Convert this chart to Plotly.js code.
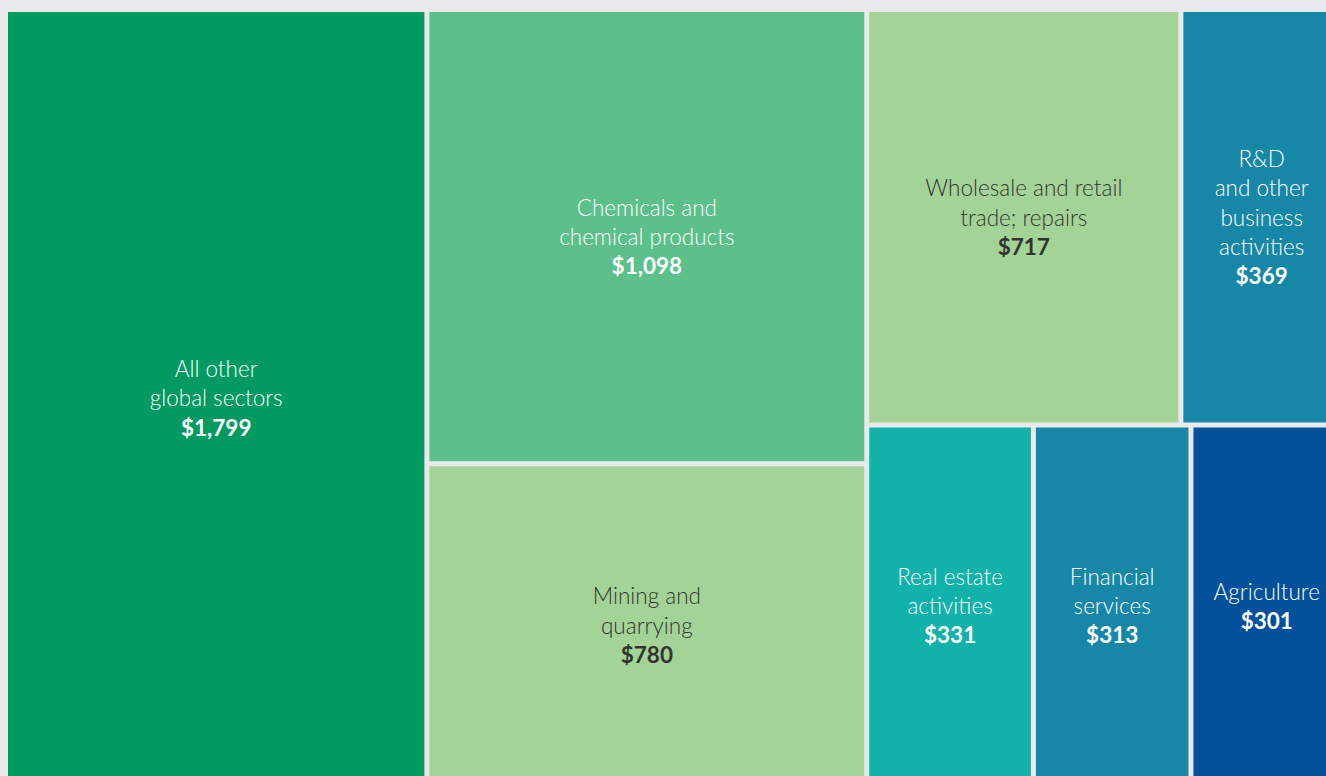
<!DOCTYPE html>
<html>
<head>
<meta charset="utf-8">
<script src="https://cdn.plot.ly/plotly-3.0.1.min.js"></script>
<style>
  html, body { margin: 0; padding: 0; overflow: hidden; background: #e9e9eb; }
  #chart { width: 1340px; height: 784px; }
</style>
</head>
<body>
<div id="chart"></div>
<script>
// Sector labels (pre-wrapped as in the reference)
const sectors = [
  "All other<br>global sectors",
  "Chemicals and<br>chemical products",
  "Mining and<br>quarrying",
  "Wholesale and retail<br>trade; repairs",
  "R&D<br>and other<br>business<br>activities",
  "Real estate<br>activities",
  "Financial<br>services",
  "Agriculture"
];
const sectorValues = [1799, 1098, 780, 717, 369, 331, 313, 301];
// Layout groups (structure only): which block each sector belongs to
const sectorGroup = ["root", "colB", "colB", "rowC1", "rowC1", "rowC2", "rowC2", "rowC2"];
const sectorColors = ["#019b62", "#5cc08b", "#a3d396", "#a3d396", "#1787a8", "#10b2a9", "#1787a8", "#03519a"];
const sectorTextColors = ["#ffffff", "#ffffff", "#333333", "#333333", "#ffffff", "#ffffff", "#ffffff", "#ffffff"];

// Group nodes (invisible containers)
const groupIds = ["root", "colB", "colC", "rowC1", "rowC2"];
const groupParents = ["", "root", "root", "colC", "colC"];

const bg = "#e9e9eb";

// Build node list in order so that children keep data order
const ids = [], labels = [], parents = [], values = [], colors = [], tcolors = [], templates = [];
function addGroup(id) {
  const k = groupIds.indexOf(id);
  ids.push(id); labels.push(""); parents.push(groupParents[k]); values.push(0);
  colors.push(bg); tcolors.push(bg); templates.push("");
}
function addSector(i) {
  ids.push("s" + i); labels.push(sectors[i]); parents.push(sectorGroup[i]);
  values.push(sectorValues[i]); colors.push(sectorColors[i]); tcolors.push(sectorTextColors[i]);
  templates.push("%{label}<br><b>$%{value:,}</b>");
}
addGroup("root");
addSector(0);
addGroup("colB"); addSector(1); addSector(2);
addGroup("colC");
addGroup("rowC1"); addSector(3); addSector(4);
addGroup("rowC2"); addSector(5); addSector(6); addSector(7);

const trace = {
  type: "treemap",
  ids: ids,
  labels: labels,
  parents: parents,
  values: values,
  branchvalues: "remainder",
  sort: false,
  texttemplate: templates,
  textposition: "middle center",
  textfont: { family: "Lato, 'Open Sans', sans-serif", size: 22.5, color: tcolors, weight: 300 },
  hoverinfo: "skip",
  marker: {
    colors: colors,
    line: { width: 0, color: bg },
    pad: { t: 0, l: 0, r: 0, b: 0 }
  },
  leaf: { opacity: 1 },
  pathbar: { visible: false },
  tiling: { packing: "slice-dice", pad: 5 }
};

const layout = {
  width: 1340,
  height: 784,
  margin: { l: 8, t: 12, r: 0, b: 0 },
  paper_bgcolor: bg,
  plot_bgcolor: bg,
  showlegend: false
};

Plotly.newPlot("chart", [trace], layout, { displayModeBar: false, staticPlot: true });
</script>
</body>
</html>
